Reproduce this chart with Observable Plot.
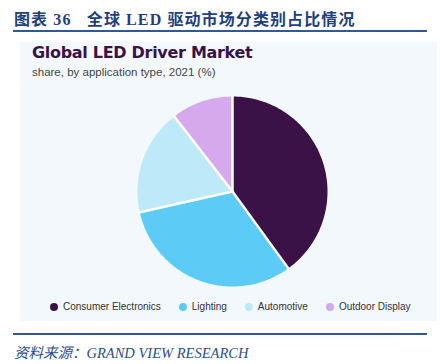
<!DOCTYPE html>
<html><head><meta charset="utf-8">
<script src="https://cdn.jsdelivr.net/npm/d3@7"></script>
<script src="https://cdn.jsdelivr.net/npm/@observablehq/plot@0.6"></script>
<style>
body{margin:0;background:#fff;}
#wrap{position:relative;width:440px;height:364px;overflow:hidden;font-family:"Liberation Sans",Arial,sans-serif;}
.abs{position:absolute;}
#title{left:14px;top:6px;font-family:"Liberation Serif","Noto Sans CJK SC",serif;font-weight:bold;font-size:16px;color:#1f3f7f;white-space:nowrap;letter-spacing:1.1px;}
.rule{left:13px;width:414px;height:2px;background:#2f5a97;}
#panel{left:20px;top:42px;width:417px;height:279px;background:#f3f8fc;}
#ptitle{left:32px;top:43px;font-family:"DejaVu Sans",sans-serif;font-weight:bold;font-size:16px;color:#3a1248;white-space:nowrap;letter-spacing:-0.3px;}
#psub{left:32px;top:66px;font-size:11.5px;color:#444;white-space:nowrap;}
#chart{left:132px;top:91px;}
#legend{left:50px;top:301px;font-size:10px;color:#333;white-space:nowrap;display:flex;}
#legend span.item{display:inline-flex;align-items:center;}
#legend span.dot{width:8px;height:8px;border-radius:50%;display:inline-block;margin-right:5px;}
#source{left:14px;top:341px;font-family:"Liberation Serif","Noto Sans CJK SC",serif;font-style:italic;font-size:14.5px;color:#2d4e8c;white-space:nowrap;}
</style></head>
<body><div id="wrap">
<div id="title" class="abs">图表 36&nbsp;&nbsp;&nbsp;全球 LED 驱动市场分类别占比情况</div>
<div class="abs rule" style="top:30px"></div>
<div id="panel" class="abs"></div>
<div id="ptitle" class="abs">Global LED Driver Market</div>
<div id="psub" class="abs">share, by application type, 2021 (%)</div>
<div id="chart" class="abs"></div>
<div id="legend" class="abs"></div>
<div class="abs rule" style="top:333px"></div>
<div id="source" class="abs">资料来源：GRAND VIEW RESEARCH</div>
</div>
<script>
const categories = ["Consumer Electronics", "Lighting", "Automotive", "Outdoor Display"];
const shares = [40, 31.5, 18, 10.5];
const colors = ["#3a1248", "#5ccbf5", "#bde9f9", "#d5a9ec"];

const total = d3.sum(shares);
// build slice outlines (angles clockwise from 12 o'clock)
const outline = [];
const edges = [];
let start = 0;
categories.forEach((c, i) => {
  const a0 = start, a1 = start + shares[i] / total * 2 * Math.PI;
  outline.push({cat: c, x: 0, y: 0});
  const n = Math.max(2, Math.ceil((a1 - a0) / (Math.PI / 180)));
  for (let k = 0; k <= n; k++) {
    const a = a0 + (a1 - a0) * k / n;
    outline.push({cat: c, x: Math.sin(a), y: Math.cos(a)});
  }
  outline.push({cat: c, x: 0, y: 0});
  edges.push({x1: 0, y1: 0, x2: Math.sin(a0) * 1.01, y2: Math.cos(a0) * 1.01});
  start = a1;
});

const plot = Plot.plot({
  width: 200, height: 200, margin: 5,
  x: {domain: [-1, 1], axis: null},
  y: {domain: [-1, 1], axis: null},
  color: {domain: categories, range: colors},
  style: {background: "transparent"},
  marks: [
    Plot.line(outline, {x: "x", y: "y", z: "cat", fill: "cat", stroke: null, curve: "linear"}),
    Plot.link(edges, {x1: "x1", y1: "y1", x2: "x2", y2: "y2", stroke: "white", strokeWidth: 2.5})
  ]
});
document.getElementById("chart").appendChild(plot);

const leg = document.getElementById("legend");
const gaps = [18, 18, 18, 0];
categories.forEach((c, i) => {
  const s = document.createElement("span");
  s.className = "item";
  s.style.marginRight = gaps[i] + "px";
  s.innerHTML = `<span class="dot" style="background:${colors[i]}"></span>${c}`;
  leg.appendChild(s);
});
</script>
</body></html>
